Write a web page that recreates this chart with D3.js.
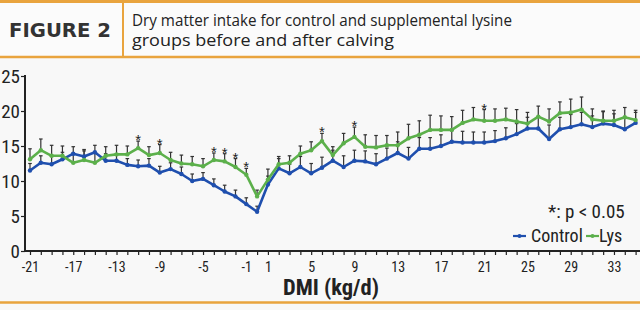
<!DOCTYPE html>
<html>
<head>
<meta charset="UTF-8">
<title>Figure 2</title>
<script src="https://cdn.jsdelivr.net/npm/d3@7/dist/d3.min.js"></script>
<style>
    body { margin: 0; background: #f8f8f8; }
    svg { display: block; }
    .narrow { font-family: "Liberation Sans Narrow", "Arial Narrow", "Roboto Condensed", sans-serif; }
    .axis path, .axis line { stroke: #222; }
</style>
</head>
<body>
<svg width="640" height="310"></svg>
<script>

    // days before (-) and after (+) calving
    var days = [-21, -20, -19, -18, -17, -16, -15, -14, -13, -12, -11, -10, -9, -8, -7, -6, -5, -4, -3, -2, -1,
        0, 1, 2, 3, 4, 5, 6, 7, 8, 9, 10, 11, 12, 13, 14, 15, 16, 17, 18, 19, 20,
        21, 22, 23, 24, 25, 26, 27, 28, 29, 30, 31, 32, 33, 34, 35];

    var control = [11.5, 12.6, 12.4, 13.1, 13.9, 13.5, 14.1, 12.9, 12.9, 12.3, 12.1, 12.2, 11.2, 11.7, 11.0, 10.0, 10.3, 9.4, 8.5, 7.8, 6.7,
        5.6, 9.5, 11.8, 11.1, 12.0, 11.1, 11.9, 12.9, 12.0, 12.9, 12.8, 12.4, 13.2, 14.0, 13.2, 14.6, 14.6, 15.0, 15.6, 15.5, 15.5,
        15.5, 15.7, 16.1, 16.7, 17.5, 17.5, 16.0, 17.4, 17.7, 18.1, 17.7, 18.2, 18.0, 17.4, 18.3];

    var lys = [13.1, 14.4, 13.6, 13.6, 12.6, 13.0, 12.6, 13.6, 13.8, 13.8, 14.7, 13.7, 14.0, 13.0, 12.5, 12.4, 12.1, 13.0, 12.8, 12.0, 10.9,
        7.8, 10.2, 12.4, 12.6, 13.9, 14.4, 15.7, 13.7, 15.4, 16.3, 14.9, 14.8, 15.1, 15.1, 16.1, 16.6, 17.3, 17.3, 17.3, 18.3, 18.8,
        18.6, 18.6, 18.8, 18.5, 18.2, 19.2, 18.5, 19.7, 19.8, 20.2, 18.8, 18.6, 18.6, 19.1, 18.7];

    var controlSE = [1.0, 1.0, 1.1, 1.0, 1.0, 1.0, 1.0, 1.0, 1.0, 0.9, 0.9, 1.0, 0.9, 0.9, 1.0, 1.0, 0.9, 0.9, 0.9, 0.9, 0.9,
        0.8, 1.2, 1.4, 1.3, 1.5, 1.4, 1.5, 1.5, 1.6, 1.5, 1.5, 1.5, 1.5, 1.6, 1.6, 1.6, 1.6, 1.6, 1.6, 1.6, 1.5,
        1.5, 1.5, 1.5, 1.5, 1.6, 1.6, 2.0, 1.7, 1.8, 1.7, 1.6, 1.7, 1.6, 1.6, 1.5];

    var lysSE = [1.5, 1.6, 1.5, 1.4, 1.4, 1.3, 1.4, 1.3, 1.3, 1.2, 1.0, 1.2, 1.2, 1.1, 1.2, 1.1, 1.1, 1.0, 1.1, 1.2, 0.9,
        0.9, 1.5, 1.1, 1.0, 1.1, 1.2, 1.1, 1.2, 1.4, 1.4, 1.7, 1.7, 1.4, 1.9, 2.0, 2.0, 2.1, 2.0, 1.9, 1.8, 1.7,
        1.6, 1.7, 1.6, 1.7, 1.6, 1.5, 1.8, 1.6, 1.9, 1.8, 1.5, 1.4, 1.5, 1.4, 1.4];

    // days with p < 0.05
    var starDays = [-11, -9, -4, -3, -2, -1, 6, 9, 21];

    var xLabels = [-21, -17, -13, -9, -5, -1, 1, 5, 9, 13, 17, 21, 25, 29, 33];
    var yTicks = [0, 5, 10, 15, 20, 25];

    var blue = "#1f4fae",
        green = "#5cb04b",
        orange = "#e9a43e";

    var svg = d3.select("svg");

    // header
    svg.append("rect").attr("x", 0).attr("y", 0).attr("width", 640).attr("height", 57).attr("fill", "#fbfbfb");
    svg.append("line").attr("x1", 0).attr("x2", 640).attr("y1", 1.5).attr("y2", 1.5)
        .attr("stroke", orange).attr("stroke-width", 3);
    svg.append("line").attr("x1", 0).attr("x2", 640).attr("y1", 57).attr("y2", 57)
        .attr("stroke", orange).attr("stroke-width", 2.5);
    svg.append("line").attr("x1", 123).attr("x2", 123).attr("y1", 2).attr("y2", 56)
        .attr("stroke", orange).attr("stroke-width", 2);
    svg.append("line").attr("x1", 0).attr("x2", 640).attr("y1", 302.5).attr("y2", 302.5)
        .attr("stroke", orange).attr("stroke-width", 2.5);

    svg.append("text")
        .attr("x", 9).attr("y", 37)
        .attr("font-family", "'DejaVu Sans', sans-serif")
        .attr("font-weight", "bold")
        .attr("font-size", 19)
        .attr("fill", "#333")
        .attr("textLength", 102).attr("lengthAdjust", "spacingAndGlyphs")
        .text("FIGURE 2");

    var titleLines = ["Dry matter intake for control and supplemental lysine", "groups before and after calving"];
    var titleWidths = [380, 262];
    svg.append("g").selectAll("text")
        .data(titleLines)
        .enter().append("text")
        .attr("x", 132)
        .attr("y", function(d, i) { return 26 + i * 20; })
        .attr("font-family", "'Open Sans', sans-serif")
        .attr("font-size", 15.5)
        .attr("fill", "#222")
        .attr("textLength", function(d, i) { return titleWidths[i]; })
        .attr("lengthAdjust", "spacingAndGlyphs")
        .text(function(d) { return d; });

    // scales
    var x = d3.scaleLinear().domain([-21, 35]).range([30, 635.6]);
    var y = d3.scaleLinear().domain([0, 25]).range([251, 76]);

    // axes
    var xAxis = svg.append("g")
        .attr("class", "axis narrow")
        .attr("transform", "translate(0,251)")
        .call(d3.axisBottom(x)
            .tickValues(d3.range(-21, 37))
            .tickSize(4)
            .tickPadding(7)
            .tickSizeOuter(0)
            .tickFormat(function(d) { return xLabels.indexOf(d) >= 0 ? d : ""; }));
    xAxis.select(".domain").remove();
    xAxis.selectAll("line").attr("stroke-width", 1.2);
    xAxis.selectAll("text").attr("font-size", 14).attr("fill", "#222").attr("font-family", null);

    var yAxis = svg.append("g")
        .attr("class", "axis narrow")
        .attr("transform", "translate(25,0)")
        .call(d3.axisLeft(y).tickValues(yTicks).tickSize(4).tickPadding(1).tickSizeOuter(0));
    yAxis.select(".domain").remove();
    yAxis.selectAll("line").attr("stroke-width", 1.2);
    yAxis.selectAll("text").attr("font-size", 19).attr("fill", "#222").attr("font-family", null);

    svg.append("line").attr("x1", 25).attr("x2", 25).attr("y1", 75).attr("y2", 252)
        .attr("stroke", "#222").attr("stroke-width", 2);
    svg.append("line").attr("x1", 24).attr("x2", 640).attr("y1", 251).attr("y2", 251)
        .attr("stroke", "#222").attr("stroke-width", 2);

    svg.append("text")
        .attr("class", "narrow")
        .attr("x", 283).attr("y", 295)
        .attr("font-weight", "bold")
        .attr("font-size", 22)
        .attr("fill", "#222")
        .attr("textLength", 96).attr("lengthAdjust", "spacingAndGlyphs")
        .text("DMI (kg/d)");

    // series
    var series = [
        { name: "Control", values: control, se: controlSE, color: blue },
        { name: "Lys", values: lys, se: lysSE, color: green }
    ];

    // error bars (upper only)
    series.forEach(function(s) {
        var g = svg.append("g").attr("stroke", "#333").attr("stroke-width", 1.2);
        g.selectAll("line.bar")
            .data(days)
            .enter().append("line")
            .attr("x1", function(d) { return x(d); })
            .attr("x2", function(d) { return x(d); })
            .attr("y1", function(d, i) { return y(s.values[i]); })
            .attr("y2", function(d, i) { return y(s.values[i] + s.se[i]); });
        g.selectAll("line.cap")
            .data(days)
            .enter().append("line")
            .attr("x1", function(d) { return x(d) - 1.8; })
            .attr("x2", function(d) { return x(d) + 1.8; })
            .attr("y1", function(d, i) { return y(s.values[i] + s.se[i]); })
            .attr("y2", function(d, i) { return y(s.values[i] + s.se[i]); });
    });

    var line = d3.line()
        .x(function(d) { return x(d[0]); })
        .y(function(d) { return y(d[1]); });

    series.forEach(function(s) {
        var pts = days.map(function(d, i) { return [d, s.values[i]]; });
        svg.append("path")
            .datum(pts)
            .attr("fill", "none")
            .attr("stroke", s.color)
            .attr("stroke-width", 2.6)
            .attr("stroke-linejoin", "round")
            .attr("d", line);
        svg.append("g").selectAll("circle")
            .data(pts)
            .enter().append("circle")
            .attr("cx", function(d) { return x(d[0]); })
            .attr("cy", function(d) { return y(d[1]); })
            .attr("r", 2.2)
            .attr("fill", s.color);
    });

    // significance stars
    svg.append("g").selectAll("text")
        .data(starDays)
        .enter().append("text")
        .attr("x", function(d) { return x(d); })
        .attr("y", function(d) {
            var i = days.indexOf(d);
            return y(lys[i] + lysSE[i]) + 4;
        })
        .attr("text-anchor", "middle")
        .attr("font-family", "'Liberation Sans', sans-serif")
        .attr("font-size", 15)
        .attr("fill", "#222")
        .text("*");

    // note and legend
    svg.append("text")
        .attr("class", "narrow")
        .attr("x", 548).attr("y", 218)
        .attr("font-size", 19)
        .attr("fill", "#222")
        .text("*: p < 0.05");

    var legend = svg.append("g").attr("class", "narrow");
    var legendX = [513, 586];
    var textX = [531, 599];
    series.forEach(function(s, i) {
        legend.append("line")
            .attr("x1", legendX[i]).attr("x2", legendX[i] + 13)
            .attr("y1", 236).attr("y2", 236)
            .attr("stroke", s.color).attr("stroke-width", 2.2);
        legend.append("circle")
            .attr("cx", legendX[i] + 6.5).attr("cy", 236).attr("r", 2)
            .attr("fill", s.color);
        legend.append("text")
            .attr("x", textX[i]).attr("y", 242)
            .attr("font-size", 18)
            .attr("fill", "#222")
            .text(s.name);
    });

</script>
</body>
</html>
